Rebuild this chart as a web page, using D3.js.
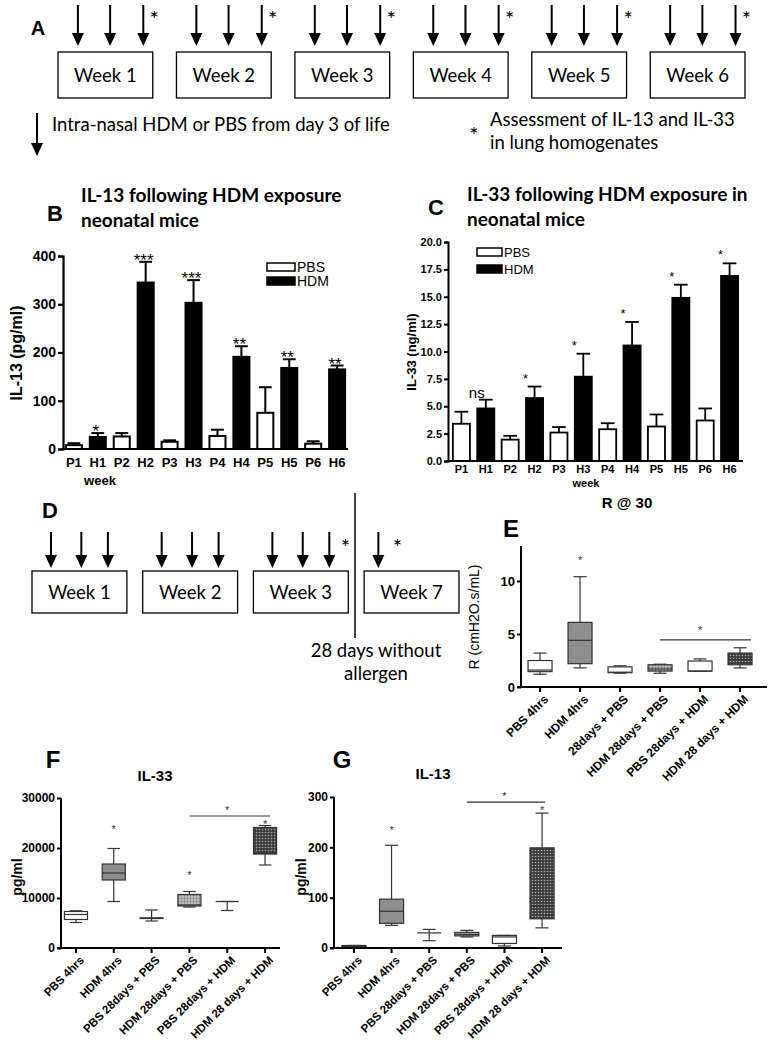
<!DOCTYPE html>
<html><head><meta charset="utf-8">
<script src="https://cdn.jsdelivr.net/npm/d3@7"></script>
<style>body{margin:0;background:#fff}svg{display:block}</style>
</head><body><svg id="c" width="768" height="1048"></svg>
<script>
// ---------- DATA ----------
const weeksA = ["Week 1","Week 2","Week 3","Week 4","Week 5","Week 6"];
const weeksD = ["Week 1","Week 2","Week 3","Week 7"];
const groups = ["P1","H1","P2","H2","P3","H3","P4","H4","P5","H5","P6","H6"];
const il13Mean = [8,25,26,345,15,303,27,191,75,168,11,165];
const il13Sem  = [4,8,7,43,3,47,13,22,53,18,5,8];
const il13Sig  = ["","*","","***","","***","","**","","**","","**"];
const il33Mean = [3.4,4.8,1.95,5.75,2.6,7.7,2.9,10.55,3.15,14.9,3.7,16.9];
const il33Sem  = [1.1,0.8,0.35,1.05,0.5,2.1,0.55,2.15,1.1,1.2,1.1,1.15];
const il33Sig  = ["","ns","","*","","*","","*","","*","","*"];
const boxCats  = ["PBS 4hrs","HDM 4hrs","PBS 28days + PBS","HDM 28days + PBS","PBS 28days + HDM","HDM 28 days + HDM"];
const boxCatsE = ["PBS 4hrs","HDM 4hrs","28days + PBS","HDM 28days + PBS","PBS 28days + HDM","HDM 28 days + HDM"];
const boxFills = ["white","grey","white","dots","white","checker"];
const boxFillsG = ["grey","grey","white","dots","white","checker"];
// [low whisker, Q1, median, Q3, high whisker]
const resistBoxes = [[1.2,1.45,1.6,2.5,3.2],[1.8,2.2,4.4,6.1,10.4],[1.3,1.35,1.4,1.9,2.0],[1.3,1.5,1.7,2.1,2.15],[1.5,1.5,1.5,2.45,2.65],[1.8,2.1,2.6,3.2,3.7]];
const il33Boxes = [[5100,5700,6700,7300,7450],[9300,13600,15000,16800,19900],[5400,5900,6000,6000,7600],[8200,8400,8600,10700,11300],[7500,9300,9300,9300,9300],[16600,18800,18900,24100,24500]];
const il13Boxes = [[1,2,3,5,5],[45,49,73,97,204],[14.5,30,30,30,37],[22,24,27,31,35],[4,9,22,25,25],[40,58,83,199,268]];
const resistStars = [null,12.2,null,null,null,null];
const il33Stars = [null,24200,null,15100,null,25300];
const il13Stars = [null,238,null,null,null,278];
const resistSig = [3,5,4.45,5.6];
const il33Sig2 = [3,5,26400,28000];
const il13Sig2 = [3,5,290,306];

// ---------- SETUP ----------
const svg = d3.select("#c");
svg.append("rect").attr("width",768).attr("height",1048).attr("fill","#fff");
const defs = svg.append("defs");
const pd = defs.append("pattern").attr("id","dots").attr("width",3).attr("height",3).attr("patternUnits","userSpaceOnUse");
pd.append("rect").attr("width",3).attr("height",3).attr("fill","#bdbdbd");
pd.append("circle").attr("cx",1.5).attr("cy",1.5).attr("r",0.9).attr("fill","#7a7a7a");
const pc = defs.append("pattern").attr("id","checker").attr("width",3).attr("height",3).attr("patternUnits","userSpaceOnUse");
pc.append("rect").attr("width",3).attr("height",3).attr("fill","#3c3c3c");
pc.append("circle").attr("cx",1.5).attr("cy",1.5).attr("r",0.8).attr("fill","#a8a8a8");
const fillOf = f => f==="dots"?"url(#dots)":f==="checker"?"url(#checker)":f==="grey"?"#8e8e8e":"#fff";

const ARIAL = "'Liberation Sans', Arial, sans-serif";
const CAL = "Lato, 'Open Sans', sans-serif";

function arrow(g,x,y1,y2){
  g.append("line").attr("x1",x).attr("x2",x).attr("y1",y1).attr("y2",y2-10).attr("stroke","#000").attr("stroke-width",2);
  g.append("path").attr("d",`M${x-6},${y2-13}L${x+6},${y2-13}L${x},${y2}Z`).attr("fill","#000");
}
function label(g,x,y,t,size,weight,fam,anchor){
  return g.append("text").attr("x",x).attr("y",y).text(t).attr("font-size",size)
    .attr("font-weight",weight||"normal").attr("font-family",fam||ARIAL).attr("text-anchor",anchor||"start").attr("fill","#000");
}

// ---------- PANEL A ----------
const gA = svg.append("g");
label(gA,38,35,"A",20,"bold",ARIAL,"middle");
const xA = d3.scaleBand().domain(weeksA).range([58,745]).paddingInner(0.2);
weeksA.forEach(w=>{
  const x0 = xA(w), bw = xA.bandwidth();
  gA.append("rect").attr("x",x0).attr("y",52).attr("width",bw).attr("height",46).attr("fill","#fff").attr("stroke","#000").attr("stroke-width",1.3);
  label(gA,x0+bw/2,82,w,18.5,"normal",CAL,"middle");
  [0.21,0.55,0.9].forEach(f=>arrow(gA,x0+bw*f,5,46));
  label(gA,x0+bw*0.9+11,27,"*",22,"normal",CAL,"middle");
});
arrow(gA,37,113,156);
label(gA,52,131,"Intra-nasal HDM or PBS from day 3 of life",18.5,"normal",CAL);
label(gA,474,143,"*",22,"normal",CAL,"middle");
label(gA,490,126,"Assessment of IL-13 and IL-33",18.5,"normal",CAL);
label(gA,490,149,"in lung homogenates",18.5,"normal",CAL);

// ---------- BAR PANELS ----------
function barPanel(o){
  const g = svg.append("g");
  const x = d3.scaleBand().domain(groups).range(o.xr).paddingInner(o.pi).paddingOuter(o.po);
  const y = d3.scaleLinear().domain(o.yd).range(o.yr);
  const bw = x.bandwidth();
  groups.forEach((k,i)=>{
    const v = o.mean[i], e = o.sem[i], cx = x(k)+bw/2;
    g.append("line").attr("x1",cx).attr("x2",cx).attr("y1",y(v)).attr("y2",y(v+e)).attr("stroke","#000").attr("stroke-width",o.ew);
    g.append("line").attr("x1",cx-bw*0.4).attr("x2",cx+bw*0.4).attr("y1",y(v+e)).attr("y2",y(v+e)).attr("stroke","#000").attr("stroke-width",o.ew);
    g.append("rect").attr("x",x(k)).attr("y",y(v)).attr("width",bw).attr("height",y(0)-y(v))
      .attr("fill",k[0]==="P"?"#fff":"#000").attr("stroke","#000").attr("stroke-width",o.bs);
    if(o.sig[i]){
      const isNs = o.sig[i]==="ns";
      g.append("text").attr("x",cx+o.sdx).attr("y",y(v+e)+(isNs?o.nsdy:o.sdy)).text(o.sig[i])
        .attr("font-size",isNs?o.nsSize:o.sSize).attr("font-family",ARIAL).attr("text-anchor","middle");
    }
  });
  const ya = g.append("g").attr("transform",`translate(${o.xr[0]},0)`)
    .call(d3.axisLeft(y).tickValues(o.ticks).tickFormat(o.fmt).tickSize(o.ts).tickPadding(2));
  ya.select(".domain").attr("stroke-width",o.aw);
  ya.selectAll(".tick line").attr("stroke-width",o.aw);
  ya.selectAll("text").attr("font-size",o.tfs).attr("font-weight","bold").attr("font-family",ARIAL).attr("fill","#000");
  g.append("line").attr("x1",o.xr[0]-o.aw/2).attr("x2",o.xr[1]).attr("y1",y(0)).attr("y2",y(0)).attr("stroke","#000").attr("stroke-width",o.aw);
  groups.forEach(k=>label(g,x(k)+bw/2,y(0)+o.xly,k,o.xfs,"bold",ARIAL,"middle"));
  label(g,o.weekX,o.weekY,"week",o.wfs,"bold",ARIAL,"middle");
  g.append("text").attr("transform",`translate(${o.ylx},${o.yly}) rotate(-90)`).text(o.ylab)
    .attr("font-size",o.ylfs).attr("font-weight","bold").attr("font-family",ARIAL).attr("text-anchor","middle");
  label(g,o.letter[1],o.letter[2],o.letter[0],22,"bold",ARIAL,"middle");
  o.title.forEach((t,j)=>label(g,o.titleX,o.titleY+j*25,t,19,"bold",CAL));
  [["PBS","#fff"],["HDM","#000"]].forEach((d,j)=>{
    g.append("rect").attr("x",o.lg[0]).attr("y",o.lg[1]+j*o.lg[4]).attr("width",o.lg[2]).attr("height",o.lg[3])
      .attr("fill",d[1]).attr("stroke","#000").attr("stroke-width",1.5);
    label(g,o.lg[0]+o.lg[2]+2,o.lg[1]+j*o.lg[4]+o.lg[3]+1,d[0],o.lfs,"normal",ARIAL);
  });
}
barPanel({mean:il13Mean,sem:il13Sem,sig:il13Sig,xr:[63,348],pi:0.33,po:0.12,yd:[0,400],yr:[449,256],
  ticks:[0,100,200,300,400],fmt:d3.format("d"),ts:5,aw:2.2,ew:2,bs:2,tfs:14,xfs:13,xly:18,wfs:13,weekX:100,weekY:485,
  ylx:22,yly:353,ylab:"IL-13 (pg/ml)",ylfs:16,letter:["B",55,221],title:["IL-13 following HDM exposure","neonatal mice"],
  titleX:81,titleY:202,lg:[267,263,28,8,14],lfs:14,sdx:-2,sdy:4,sSize:17,nsdy:0,nsSize:14});
barPanel({mean:il33Mean,sem:il33Sem,sig:il33Sig,xr:[448,743],pi:0.3,po:0.2,yd:[0,20],yr:[461,242],
  ticks:[0,2.5,5,7.5,10,12.5,15,17.5,20],fmt:d3.format(".1f"),ts:4,aw:2,ew:1.8,bs:1.8,tfs:11,xfs:11,xly:12,wfs:11,weekX:586,weekY:487,
  ylx:416,yly:352,ylab:"IL-33 (ng/ml)",ylfs:13,letter:["C",436,215],title:["IL-33 following HDM exposure in","neonatal mice"],
  titleX:467,titleY:201,lg:[477,248,25,8,17],lfs:13,sdx:-9,sdy:-4,sSize:13,nsdy:-2,nsSize:15});

// ---------- PANEL D ----------
const gD = svg.append("g");
label(gD,50,518,"D",22,"bold",ARIAL,"middle");
const xD = d3.scaleBand().domain(weeksD).range([32,459]).paddingInner(0.143);
weeksD.forEach((w,i)=>{
  const x0 = xD(w), bw = xD.bandwidth();
  gD.append("rect").attr("x",x0).attr("y",571).attr("width",bw).attr("height",42).attr("fill","#fff").attr("stroke","#000").attr("stroke-width",1.3);
  label(gD,x0+bw/2,599,w,18.5,"normal",CAL,"middle");
  const fr = w==="Week 7"?[0.15]:[0.2,0.52,0.8];
  fr.forEach(f=>arrow(gD,x0+bw*f,532,568));
  if(i>=2) label(gD,x0+bw*fr[fr.length-1]+(w==="Week 7"?19:16),555,"*",22,"normal",CAL,"middle");
});
gD.append("line").attr("x1",355).attr("x2",355).attr("y1",493).attr("y2",638).attr("stroke","#000").attr("stroke-width",1.5);
label(gD,376,657,"28 days without",18.5,"normal",CAL,"middle");
label(gD,376,680,"allergen",18.5,"normal",CAL,"middle");

// ---------- BOX PANELS ----------
function boxPanel(o){
  const g = svg.append("g");
  const x = d3.scaleBand().domain(o.cats).range(o.xr).paddingInner(o.pi).paddingOuter(o.po).align(o.al);
  const y = d3.scaleLinear().domain(o.yd).range(o.yr);
  const bw = x.bandwidth();
  o.cats.forEach((c,i)=>{
    const [lo,q1,md,q3,hi] = o.boxes[i], cx = x(c)+bw/2;
    const st = "#333";
    g.append("line").attr("x1",cx).attr("x2",cx).attr("y1",y(hi)).attr("y2",y(lo)).attr("stroke",st).attr("stroke-width",1.2);
    [hi,lo].forEach(v=>g.append("line").attr("x1",cx-bw*0.27).attr("x2",cx+bw*0.27).attr("y1",y(v)).attr("y2",y(v)).attr("stroke",st).attr("stroke-width",1.2));
    g.append("rect").attr("x",x(c)).attr("y",y(q3)).attr("width",bw).attr("height",Math.max(0,y(q1)-y(q3)))
      .attr("fill",fillOf(o.fills[i])).attr("stroke",st).attr("stroke-width",1.2);
    g.append("line").attr("x1",x(c)).attr("x2",x(c)+bw).attr("y1",y(md)).attr("y2",y(md)).attr("stroke",st).attr("stroke-width",1.2);
    if(o.stars[i]!=null) label(g,cx,y(o.stars[i])+6,"*",11,"normal",ARIAL,"middle").attr("fill","#333");
  });
  const s = o.sig;
  const x1 = x(o.cats[s[0]])+bw/2, x2 = x(o.cats[s[1]])+bw/2+o.sigExt;
  g.append("line").attr("x1",x1).attr("x2",x2).attr("y1",y(s[2])).attr("y2",y(s[2])).attr("stroke","#333").attr("stroke-width",1.2);
  label(g,(x(o.cats[s[0]+1])+bw/2),y(s[3])+6,"*",11,"normal",ARIAL,"middle").attr("fill","#333");
  const ya = g.append("g").attr("transform",`translate(${o.xr[0]},0)`)
    .call(d3.axisLeft(y).tickValues(o.ticks).tickFormat(d3.format("d")).tickSize(4).tickPadding(2));
  ya.select(".domain").attr("stroke-width",2).attr("d",`M-4,${o.yr[0]}H0V${o.yTop}`);
  ya.selectAll(".tick line").attr("stroke-width",2);
  ya.selectAll("text").attr("font-size",o.tfs).attr("font-weight","bold").attr("font-family",ARIAL).attr("fill","#000");
  const xa = g.append("g").attr("transform",`translate(0,${o.yr[0]})`)
    .call(d3.axisBottom(x).tickSize(5).tickFormat(""));
  xa.select(".domain").attr("stroke-width",2).attr("d",`M${o.xr[0]},0H${o.xEnd}`);
  xa.selectAll(".tick line").attr("stroke-width",2);
  o.labels.forEach((c,i)=>{
    const cx = x(o.cats[i])+bw/2;
    g.append("text").attr("transform",`translate(${cx+6},${o.yr[0]+10}) rotate(-45)`).text(c)
      .attr("font-size",o.lfs).attr("font-weight","bold").attr("font-family",ARIAL).attr("text-anchor","end").attr("dy","0.35em");
  });
  g.append("text").attr("transform",`translate(${o.ylx},${o.yly}) rotate(-90)`).text(o.ylab)
    .attr("font-size",o.ylfs).attr("font-weight",o.ylw).attr("font-family",ARIAL).attr("text-anchor","middle");
  label(g,o.titleX,o.titleY,o.title,15,"bold",ARIAL,"middle");
  label(g,o.letter[1],o.letter[2],o.letter[0],24,"bold",ARIAL,"middle");
}
boxPanel({cats:boxCats,labels:boxCatsE,boxes:resistBoxes,fills:boxFills,stars:resistStars,sig:resistSig,sigExt:11,
  xr:[521,767],xEnd:767,pi:0.4,po:0.275,al:0.32,yd:[0,13.3],yr:[687,546],yTop:546,ticks:[0,5,10],tfs:13,lfs:12,
  ylx:479,yly:617,ylab:"R (cmH2O.s/mL)",ylfs:14,ylw:"normal",title:"R @ 30",titleX:627,titleY:508,letter:["E",511,537]});
boxPanel({cats:boxCats,labels:boxCats,boxes:il33Boxes,fills:boxFills,stars:il33Stars,sig:il33Sig2,sigExt:5,
  xr:[61,280],xEnd:280,pi:0.39,po:0.09,al:0.5,yd:[0,30000],yr:[948,798],yTop:798,ticks:[0,10000,20000,30000],tfs:12,lfs:11.5,
  ylx:22,yly:877,ylab:"pg/ml",ylfs:14,ylw:"bold",title:"IL-33",titleX:155,titleY:781,letter:["F",53,768]});
boxPanel({cats:boxCats,labels:boxCats,boxes:il13Boxes,fills:boxFillsG,stars:il13Stars,sig:il13Sig2,sigExt:3,
  xr:[334,562],xEnd:562,pi:0.36,po:0.21,al:0.5,yd:[0,300],yr:[948,797],yTop:797,ticks:[0,100,200,300],tfs:12,lfs:11.5,
  ylx:306,yly:877,ylab:"pg/ml",ylfs:14,ylw:"bold",title:"IL-13",titleX:433,titleY:779,letter:["G",342,768]});
</script></body></html>
